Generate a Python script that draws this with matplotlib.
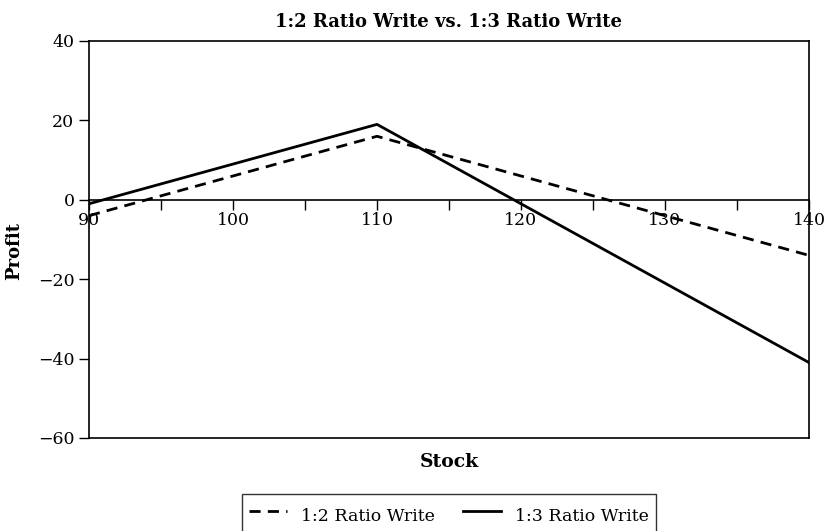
import matplotlib
matplotlib.use("Agg")
import matplotlib.pyplot as plt
from matplotlib.ticker import MultipleLocator

plt.rcParams['font.family'] = ['DejaVu Serif']
plt.rcParams['axes.unicode_minus'] = True

stock = [90, 110, 140]
ratio_12 = [-4, 16, -14]
ratio_13 = [-1, 19, -41]

title = "1:2 Ratio Write vs. 1:3 Ratio Write"
xlabel = "Stock"
ylabel = "Profit"
series_names = ["1:2 Ratio Write", "1:3 Ratio Write"]
x_ticks = [90, 100, 110, 120, 130, 140]
y_ticks = [-60, -40, -20, 0, 20, 40]

fig = plt.figure(figsize=(8.28, 5.31), dpi=100)
ax = fig.add_axes([89/828, 1 - 438/531, 720/828, 397/531])

ax.plot(stock, ratio_12, color='black', lw=2, linestyle=(0, (4, 2.6)), label=series_names[0])
ax.plot(stock, ratio_13, color='black', lw=2, label=series_names[1])

ax.set_xlim(90, 140)
ax.set_ylim(-60, 40)

ax.spines['bottom'].set_position(('data', 0))
for s in ax.spines.values():
    s.set_linewidth(1.2)
ax.plot([0, 1], [0, 0], transform=ax.transAxes, color='black', lw=1.2, clip_on=False)

ax.set_xticks(x_ticks)
ax.set_xticklabels([str(v) for v in x_ticks])
ax.xaxis.set_minor_locator(MultipleLocator(5))
ax.tick_params(axis='x', which='both', direction='out', length=7.5, width=1, pad=1.5, labelsize=12.5)
ax.set_yticks(y_ticks)
ax.tick_params(axis='y', direction='out', length=7.5, width=1, pad=3, labelsize=12.5)

ax.set_title(title, fontsize=13, fontweight='bold', pad=10)
ax.set_xlabel(xlabel, fontsize=13.5, fontweight='bold')
ax.xaxis.set_label_coords(0.5, -0.037)
ax.set_ylabel(ylabel, fontsize=13, fontweight='bold')
ax.yaxis.set_label_coords(-0.092, 0.47)

leg = ax.legend(loc='upper center', bbox_to_anchor=(0.5, -0.118), ncol=2, frameon=True,
                fancybox=False, edgecolor='black', fontsize=12.5, handlelength=2.2,
                handleheight=2.3, borderpad=0.4, columnspacing=1.6)
leg.get_frame().set_linewidth(1)

fig.savefig("out.png", dpi=100)
